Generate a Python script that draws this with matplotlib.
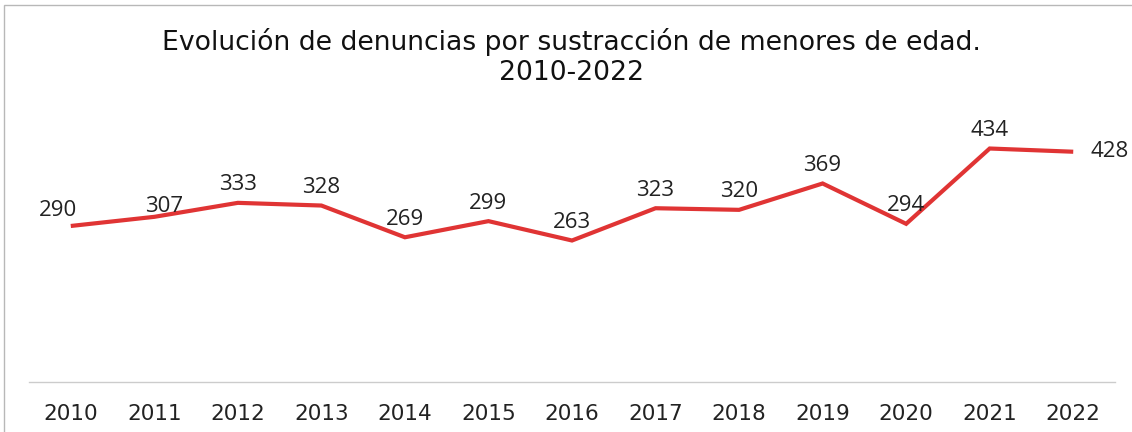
import matplotlib
matplotlib.use("Agg")
import matplotlib.pyplot as plt
from matplotlib.patches import Rectangle

years = ["2010", "2011", "2012", "2013", "2014", "2015", "2016",
         "2017", "2018", "2019", "2020", "2021", "2022"]
denuncias = [290, 307, 333, 328, 269, 299, 263, 323, 320, 369, 294, 434, 428]
title_text = "Evolución de denuncias por sustracción de menores de edad.\n2010-2022"

# label placement (pixel offsets from each point)
label_dx = [-13, 10, 0, 0, 0, 0, 0, 0, 0, 0, 0, 0, 17]
label_dy = [15, 10, 18, 18, 18, 18, 18, 18, 18, 18, 18, 18, 0]
label_ha = ["center"] * 12 + ["left"]

W, H = 1132, 432
fig = plt.figure(figsize=(W / 100, H / 100), dpi=100)
fig.patch.set_facecolor("white")

# thin frame around the chart area
fig.patches.append(Rectangle((4 / W, -0.1), 1.2, (H - 5) / H + 0.1,
                             transform=fig.transFigure, fill=False,
                             edgecolor="#b8b8b8", linewidth=1.0))

ax_left, ax_right = 29 / W, 1115 / W
ax_bottom = (H - 382) / H
ax_height = 269 / H
ax = fig.add_axes([ax_left, ax_bottom, ax_right - ax_left, ax_height])

x = list(range(len(years)))
ax.plot(x, denuncias, color="#E03434", linewidth=3.0, solid_capstyle="butt",
        solid_joinstyle="miter")

for i, v in enumerate(denuncias):
    ax.annotate(str(v), (x[i], v), xytext=(label_dx[i], label_dy[i]),
                textcoords="offset pixels", ha=label_ha[i], va="center",
                fontsize=16, color="#222222", family="Open Sans")

ax.set_xlim(-0.5, len(years) - 0.5)
ax.set_ylim(0, 500)
ax.set_xticks(x)
ax.set_xticklabels(years, fontsize=15.5, color="#222222", family="DejaVu Sans")
ax.tick_params(axis="x", length=0, pad=16)
ax.set_yticks([])
for side in ("left", "right", "top"):
    ax.spines[side].set_visible(False)
ax.spines["bottom"].set_color("#cccccc")
ax.spines["bottom"].set_linewidth(1.0)

fig.text(0.505, (H - 57) / H, title_text, ha="center", va="center",
         fontsize=19.2, color="#111111", family="DejaVu Sans", linespacing=1.25)

fig.savefig("out.png", dpi=100, facecolor="white")
